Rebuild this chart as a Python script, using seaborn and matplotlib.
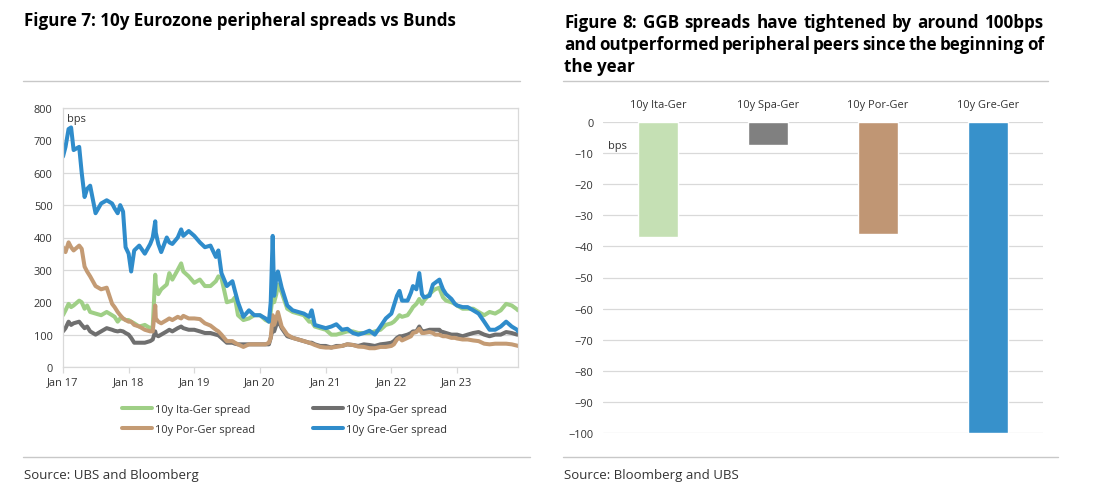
import matplotlib
matplotlib.use("Agg")
import numpy as np
import pandas as pd
import seaborn as sns
import matplotlib.pyplot as plt
import matplotlib.dates as mdates
from matplotlib.lines import Line2D

# ---------------- data ----------------
dates = [
    '2017-01-01','2017-01-15','2017-02-01','2017-02-15','2017-03-01','2017-04-01','2017-04-15','2017-05-01',
    '2017-05-15','2017-06-01','2017-07-01','2017-08-01','2017-09-01','2017-10-01','2017-10-15','2017-11-01',
    '2017-11-15','2017-12-01','2017-12-15',
    '2018-01-01','2018-01-15','2018-02-01','2018-03-01','2018-04-01','2018-05-01','2018-05-15','2018-05-29',
    '2018-06-01','2018-06-15','2018-07-01','2018-08-01','2018-08-15','2018-09-01','2018-10-01','2018-10-20',
    '2018-11-01','2018-12-01',
    '2019-01-01','2019-02-01','2019-03-01','2019-04-01','2019-05-01','2019-05-15','2019-06-01','2019-07-01',
    '2019-08-01','2019-08-15','2019-09-01','2019-10-01','2019-11-01','2019-12-01',
    '2020-01-01','2020-02-01','2020-02-20','2020-03-01','2020-03-12','2020-03-20','2020-04-01','2020-04-10',
    '2020-05-01','2020-06-01','2020-07-01','2020-08-01','2020-09-01','2020-10-01','2020-10-15','2020-11-01',
    '2020-12-01',
    '2021-01-01','2021-02-01','2021-03-01','2021-04-01','2021-05-01','2021-06-01','2021-07-01','2021-08-01',
    '2021-09-01','2021-10-01','2021-11-01','2021-12-01',
    '2022-01-01','2022-01-15','2022-02-01','2022-02-15','2022-03-01','2022-04-01','2022-04-20','2022-05-01',
    '2022-05-20','2022-06-05','2022-06-20','2022-07-01','2022-08-01','2022-08-20','2022-09-01','2022-09-25',
    '2022-10-01','2022-10-15','2022-11-01','2022-12-01','2022-12-20',
    '2023-01-01','2023-02-01','2023-03-01','2023-04-01','2023-05-01','2023-06-01','2023-07-01','2023-08-01',
    '2023-09-01','2023-10-01','2023-11-01','2023-12-01','2023-12-06',
]

ita_ger = [
    160, 175, 195, 185, 190, 205, 200, 180, 190, 170, 165, 160, 170, 160, 155, 140, 150, 150, 145,
    145, 140, 135, 125, 130, 120, 125, 285, 255, 225, 240, 255, 290, 270, 300, 320, 295, 280,
    260, 270, 250, 250, 265, 280, 275, 200, 205, 215, 160, 145, 150, 160,
    160, 145, 140, 170, 220, 200, 225, 255, 230, 180, 170, 165, 160, 140, 140, 125, 120,
    115, 100, 100, 105, 110, 110, 105, 105, 105, 110, 115, 130,
    135, 140, 150, 160, 155, 160, 175, 185, 195, 210, 195, 205, 225, 235, 240, 245, 235, 215, 205, 200, 195,
    190, 180, 180, 180, 170, 160, 170, 165, 175, 195, 190, 178, 175,
]
spa_ger = [
    110, 120, 140, 130, 135, 140, 130, 120, 125, 110, 100, 110, 120, 115, 112, 110, 112, 110, 105,
    100, 90, 75, 75, 75, 80, 85, 110, 100, 95, 100, 110, 115, 110, 120, 125, 120, 115,
    115, 110, 105, 105, 100, 98, 90, 75, 75, 72, 70, 70, 70, 70,
    70, 70, 70, 90, 120, 110, 130, 145, 120, 95, 90, 85, 80, 75, 75, 70, 65,
    65, 60, 65, 65, 70, 68, 65, 70, 68, 65, 70, 72,
    75, 80, 90, 95, 95, 100, 105, 110, 110, 125, 110, 110, 115, 115, 115, 115, 110, 108, 105, 100, 100,
    100, 95, 100, 105, 108, 100, 95, 100, 100, 108, 105, 100, 100,
]
por_ger = [
    370, 355, 385, 370, 360, 375, 365, 310, 295, 280, 250, 240, 245, 195, 185, 170, 160, 150, 145,
    140, 140, 130, 125, 115, 110, 110, 190, 150, 140, 135, 145, 150, 145, 155, 150, 158, 150,
    150, 148, 135, 128, 115, 110, 100, 80, 80, 75, 70, 62, 70, 70,
    70, 70, 75, 90, 160, 130, 150, 170, 125, 100, 90, 85, 80, 75, 72, 68, 62,
    60, 60, 62, 65, 70, 68, 63, 62, 58, 58, 62, 62,
    65, 70, 85, 90, 82, 90, 95, 105, 108, 118, 105, 105, 108, 105, 100, 100, 98, 95, 95, 90, 90,
    88, 85, 85, 82, 80, 72, 70, 72, 72, 72, 70, 66, 65,
]
gre_ger = [
    650, 680, 735, 740, 670, 680, 600, 525, 550, 560, 475, 505, 515, 505, 490, 475, 500, 480, 370,
    350, 295, 360, 375, 350, 380, 400, 450, 415, 380, 355, 400, 385, 380, 400, 425, 405, 420,
    405, 385, 370, 375, 340, 360, 290, 250, 265, 235, 200, 155, 175, 160,
    160, 150, 140, 200, 405, 220, 275, 295, 245, 190, 175, 170, 165, 155, 175, 130, 125,
    120, 125, 132, 115, 118, 105, 100, 105, 112, 100, 125, 150,
    165, 190, 220, 235, 205, 205, 230, 250, 240, 290, 225, 215, 220, 255, 260, 270, 260, 240, 225, 210, 195,
    190, 185, 185, 175, 165, 140, 115, 115, 125, 140, 125, 115, 110,
]

series_names = ['10y Ita-Ger spread', '10y Spa-Ger spread', '10y Por-Ger spread', '10y Gre-Ger spread']
line_colors = ['#9fcf86', '#6f6f6f', '#c49b74', '#2f8ccb']

year_ticks = ['2017-01-01', '2018-01-01', '2019-01-01', '2020-01-01', '2021-01-01', '2022-01-01', '2023-01-01']
year_labels = ['Jan 17', 'Jan 18', 'Jan 19', 'Jan 20', 'Jan 21', 'Jan 22', 'Jan 23']

bar_labels = ['10y Ita-Ger', '10y Spa-Ger', '10y Por-Ger', '10y Gre-Ger']
bar_values = [-37, -7.5, -36, -100]
bar_colors = ['#c5e0b4', '#808080', '#c09674', '#3791cb']

# ---------------- style ----------------
sns.set_theme(style='white')
plt.rcParams['font.family'] = ['Open Sans', 'DejaVu Sans']

W, H = 1094, 489
fig = plt.figure(figsize=(W / 100, H / 100), dpi=100)

def fx(px):
    return px / W

def fy(py):
    return 1 - py / H

TXT = '#333333'
GRID = '#d9d9d9'
TICKFS = 7.9
LW = 2.9

# ---------------- left: line chart ----------------
ax1 = fig.add_axes([fx(63), fy(368), fx(518) - fx(63), fy(109) - fy(368)])
n = len(dates)
df = pd.DataFrame({
    'date': pd.to_datetime(dates * 4),
    'value': ita_ger + spa_ger + por_ger + gre_ger,
    'series': sum([[s] * n for s in series_names], []),
})
for s, vals in zip(series_names, [ita_ger, spa_ger, por_ger, gre_ger]):
    assert len(vals) == n, (s, len(vals), n)

sns.lineplot(data=df, x='date', y='value', hue='series', hue_order=series_names,
             palette=dict(zip(series_names, line_colors)), linewidth=LW,
             estimator=None, ax=ax1, legend=False)

ax1.set_xlim(mdates.date2num(pd.Timestamp('2017-01-01')), mdates.date2num(pd.Timestamp('2023-12-06')))
ax1.set_ylim(0, 800)
ax1.set_yticks(np.arange(0, 801, 100))
ax1.set_xticks([mdates.date2num(pd.Timestamp(d)) for d in year_ticks])
ax1.set_xticklabels(year_labels)
ax1.set_xlabel('')
ax1.set_ylabel('')
ax1.yaxis.grid(True, color=GRID, linewidth=0.9)
ax1.set_axisbelow(True)
for sp in ax1.spines.values():
    sp.set_color(GRID)
    sp.set_linewidth(0.9)
ax1.tick_params(axis='y', length=0, pad=7.5, labelsize=TICKFS, labelcolor=TXT)
ax1.tick_params(axis='x', length=4, width=0.9, color=GRID, direction='out', pad=2.5,
                labelsize=TICKFS, labelcolor=TXT, bottom=True)
ax1.text(0.009, 768, 'bps', transform=ax1.get_yaxis_transform(), fontsize=TICKFS,
         color=TXT, va='center', ha='left')

handles = [Line2D([0], [0], color=c, lw=LW) for c in line_colors]
order = [0, 2, 1, 3]
fig.legend([handles[i] for i in order], [series_names[i] for i in order],
           loc='upper left', bbox_to_anchor=(fx(122), fy(405)), ncol=2, frameon=False,
           fontsize=TICKFS, handlelength=2.7, handletextpad=0.3, columnspacing=5.3,
           labelspacing=0.85, borderpad=0, borderaxespad=0, labelcolor=TXT)

# ---------------- right: bar chart ----------------
ax2 = fig.add_axes([fx(603), fy(434), fx(1043) - fx(603), fy(123) - fy(434)])
df2 = pd.DataFrame({'cat': bar_labels, 'val': bar_values})
sns.barplot(data=df2, x='cat', y='val', hue='cat', hue_order=bar_labels,
            palette=dict(zip(bar_labels, bar_colors)), saturation=1, width=0.36,
            ax=ax2, legend=False)
ax2.set_ylim(-100, 0)
ax2.set_yticks(np.arange(-100, 1, 10))
ax2.set_xlim(-0.5, 3.5)
ax2.set_xlabel('')
ax2.set_ylabel('')
ax2.yaxis.grid(True, color=GRID, linewidth=0.9)
ax2.set_axisbelow(True)
for sp in ax2.spines.values():
    sp.set_visible(False)
ax2.xaxis.set_ticks_position('top')
ax2.tick_params(axis='x', length=0, pad=8.5, labelsize=TICKFS, labelcolor=TXT,
                labeltop=True, labelbottom=False)
ax2.tick_params(axis='y', length=0, pad=7, labelsize=TICKFS, labelcolor=TXT)
ax2.text(0.012, -7.6, 'bps', transform=ax2.get_yaxis_transform(), fontsize=TICKFS,
         color=TXT, va='center', ha='left')

# ---------------- titles, rules, sources ----------------
renderer = fig.canvas.get_renderer()
left_title = 'Figure 7: 10y Eurozone peripheral spreads vs Bunds'
probe = fig.text(0, 0, left_title, fontsize=12, fontweight='bold')
w12 = probe.get_window_extent(renderer).width
probe.remove()
tfs = 12 * 433 / w12

fig.text(fx(24), fy(26.5), left_title, fontsize=tfs, fontweight='bold', color='black',
         ha='left', va='baseline')

def justified(words, x0, x1, ybase):
    ts = [fig.text(0, 0, w, fontsize=tfs, fontweight='bold', color='black',
                   ha='left', va='baseline') for w in words]
    widths = [t.get_window_extent(renderer).width for t in ts]
    gap = (x1 - x0 - sum(widths)) / (len(words) - 1)
    pos = x0
    for t, w in zip(ts, widths):
        t.set_position((fx(pos), fy(ybase)))
        pos += w + gap

justified('Figure 8: GGB spreads have tightened by around 100bps'.split(), 564, 1044, 27.5)
justified('and outperformed peripheral peers since the beginning of'.split(), 564, 1044, 50)
fig.text(fx(564), fy(72.5), 'the year', fontsize=tfs, fontweight='bold', color='black',
         ha='left', va='baseline')

RULE = '#c8c8c8'
for (x0, x1, y) in [(23, 520, 82), (23, 530, 458), (563, 1048, 82), (563, 1058, 458)]:
    fig.add_artist(Line2D([fx(x0), fx(x1)], [fy(y), fy(y)], color=RULE, linewidth=1.0,
                          transform=fig.transFigure))

fig.text(fx(24), fy(476), 'Source: UBS and Bloomberg', fontsize=9.5, color=TXT, ha='left', va='center')
fig.text(fx(564), fy(476), 'Source: Bloomberg and UBS', fontsize=9.5, color=TXT, ha='left', va='center')

fig.savefig('out.png', dpi=100)
